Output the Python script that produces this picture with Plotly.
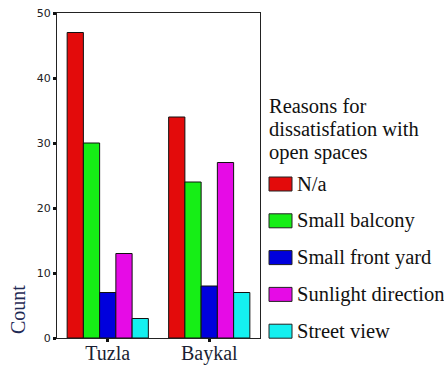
import plotly.graph_objects as go

# Survey counts per neighbourhood, split by reason for dissatisfaction
neighbourhoods = ["Tuzla", "Baykal"]
reasons = ["N/a", "Small balcony", "Small front yard", "Sunlight direction", "Street view"]
counts_tuzla = [47, 30, 7, 13, 3]
counts_baykal = [34, 24, 8, 27, 7]
reason_colors = ["#e30b0b", "#16ee16", "#0000dd", "#e60be6", "#14f0f0"]
y_ticks = [0, 10, 20, 30, 40, 50]
legend_heading = ["Reasons for", "dissatisfation with", "open spaces"]

serif = "Liberation Serif"
sans = "DejaVu Sans"

W, H = 444, 371
L, T, B = 57, 13, 33
plot_right = 260
dom_right = (plot_right - L) / (W - L)


def px_x(px):
    """Pixel column -> paper x."""
    return (px - L) / (W - L)


def px_y(py):
    """Pixel row (from top) -> paper y."""
    return 1 - (py - T) / (H - T - B)


fig = go.Figure()
for i, reason in enumerate(reasons):
    fig.add_trace(go.Bar(
        name=reason,
        x=neighbourhoods,
        y=[counts_tuzla[i], counts_baykal[i]],
        marker=dict(color=reason_colors[i], line=dict(color="#111111", width=1)),
        showlegend=False,
    ))

annotations = [dict(
    text="Count", textangle=-90,
    xref="x domain", yref="y domain",
    x=-0.192, y=0.086, xanchor="center", yanchor="middle",
    showarrow=False,
    font=dict(family=serif, size=20, color="#1f2a55"),
)]

# Legend heading, one line per annotation for tight leading
for k, line in enumerate(legend_heading):
    annotations.append(dict(
        text=line, xref="paper", yref="paper",
        x=px_x(267), y=px_y(106 + 23 * k),
        xanchor="left", yanchor="middle", showarrow=False,
        font=dict(family=serif, size=20.5, color="#111111"),
    ))

# Legend rows: colour swatch + label
shapes = []
row0, row_step = 184, 36.8
for i, reason in enumerate(reasons):
    cy = row0 + i * row_step
    shapes.append(dict(
        type="rect", xref="paper", yref="paper",
        x0=px_x(269), x1=px_x(292), y0=px_y(cy - 7), y1=px_y(cy + 7),
        fillcolor=reason_colors[i], line=dict(color="#222222", width=1),
    ))
    annotations.append(dict(
        text=reason, xref="paper", yref="paper",
        x=px_x(295), y=px_y(cy),
        xanchor="left", yanchor="middle", showarrow=False,
        font=dict(family=serif, size=20.5, color="#111111"),
    ))

fig.update_layout(
    width=W,
    height=H,
    margin=dict(l=L, r=0, t=T, b=B),
    paper_bgcolor="white",
    plot_bgcolor="white",
    barmode="group",
    bargap=0.2,
    bargroupgap=0,
    showlegend=False,
    xaxis=dict(
        domain=[0, dom_right],
        showline=True, linecolor="#222222", linewidth=1, mirror=True,
        ticks="outside", ticklen=3, tickwidth=3, tickcolor="#111111",
        tickfont=dict(family=serif, size=20, color="#1a1f33"),
        ticklabelstandoff=-6,
        automargin=False,
        showgrid=False,
    ),
    yaxis=dict(
        range=[0, 50],
        tickvals=y_ticks,
        showline=True, linecolor="#222222", linewidth=1, mirror=True,
        ticks="outside", ticklen=3, tickwidth=3, tickcolor="#111111",
        tickfont=dict(family=sans, size=11, color="#222222"),
        automargin=False,
        showgrid=False, zeroline=False,
    ),
    annotations=annotations,
    shapes=shapes,
)

fig.write_html("out.html")
